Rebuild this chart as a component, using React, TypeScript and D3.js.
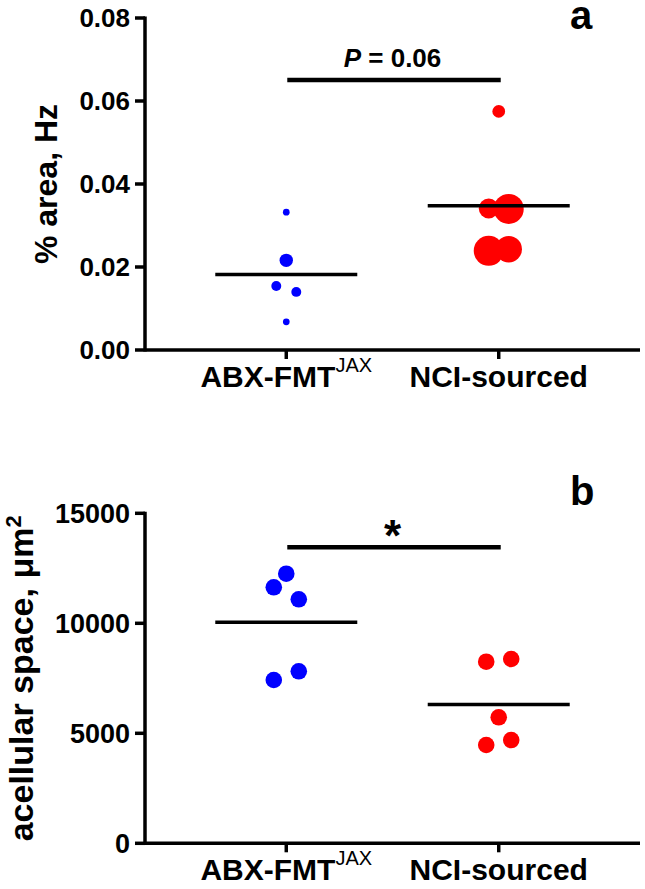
import React from "react";
import * as d3 from "d3";

const groups = ["ABX-FMT", "NCI-sourced"];
const areaTicks = [0, 0.02, 0.04, 0.06, 0.08];
const spaceTicks = [0, 5000, 10000, 15000];

// Panel a: % area, with bubble weight (relative)
const areaABX = [0.0332, 0.0216, 0.0154, 0.014, 0.0068];
const weightABX = [0.05, 0.2, 0.11, 0.11, 0.05];
const areaNCI = [0.0575, 0.0341, 0.034, 0.0239, 0.0243];
const weightNCI = [0.18, 0.44, 1.0, 1.0, 0.78];

// Panel b: acellular space, um^2
const spaceABX = [12255, 11636, 11091, 7423, 7818];
const spaceNCI = [8255, 8377, 5727, 4468, 4695];

const FONT = "'Liberation Sans', Arial, Helvetica, sans-serif";
const BLUE = "#0000ff";
const RED = "#ff0000";

function dodge(vals: number[], y: (v: number) => number, threshold: number, spacing: number) {
  const idx = vals.map((_, i) => i).sort((a, b) => y(vals[b]) - y(vals[a]));
  const offsets = new Array(vals.length).fill(0);
  let group: number[] = [];
  const flush = () => {
    const g = [...group].sort((a, b) => a - b);
    g.forEach((k, j) => (offsets[k] = (j - (g.length - 1) / 2) * spacing));
    group = [];
  };
  idx.forEach((i) => {
    if (group.length && Math.abs(y(vals[i]) - y(vals[group[0]])) > threshold) flush();
    group.push(i);
  });
  if (group.length) flush();
  return offsets;
}

type PanelProps = {
  top: number;
  bottom: number;
  ticks: number[];
  series: { vals: number[]; color: string; radii: number[] }[];
  spacing: number;
  tickFont: number;
  fmt: (v: number) => string;
  title: React.ReactNode;
  titleX: number;
  titleFont: number;
  letter: string;
  letterY: number;
  sig: React.ReactNode;
  sigY: number;
};

const AXIS_X = 145;
const AXIS_END = 640;

const x = d3.scalePoint<string>().domain(groups).range([AXIS_X, AXIS_END]).padding(0.665);

function Panel(p: PanelProps) {
  const y = d3.scaleLinear().domain([0, d3.max(p.ticks) as number]).range([p.bottom, p.top]);
  const y0 = y(0);
  return (
    <g>
      {/* y axis */}
      <line x1={AXIS_X} x2={AXIS_X} y1={y(d3.max(p.ticks) as number) - 1.5} y2={y0 + 1.5} stroke="#000" strokeWidth={3.5} />
      {p.ticks.map((t) => (
        <g key={t}>
          <line x1={AXIS_X - 10} x2={AXIS_X} y1={y(t)} y2={y(t)} stroke="#000" strokeWidth={3.5} />
          <text x={AXIS_X - 15} y={y(t)} dy="0.36em" textAnchor="end" fontFamily={FONT} fontWeight="bold" fontSize={p.tickFont}>
            {p.fmt(t)}
          </text>
        </g>
      ))}
      {/* x axis */}
      <line x1={AXIS_X} x2={AXIS_END} y1={y0} y2={y0} stroke="#000" strokeWidth={3.5} />
      {groups.map((g) => (
        <line key={g} x1={x(g)} x2={x(g)} y1={y0} y2={y0 + 9} stroke="#000" strokeWidth={3.5} />
      ))}
      <text x={x(groups[0])} y={y0 + 37} textAnchor="middle" fontFamily={FONT} fontWeight="bold" fontSize={30}>
        {groups[0]}
        <tspan fontWeight="normal" fontSize={20} dy={-15}>JAX</tspan>
      </text>
      <text x={x(groups[1])} y={y0 + 37} textAnchor="middle" fontFamily={FONT} fontWeight="bold" fontSize={30}>
        {groups[1]}
      </text>
      {/* points */}
      {p.series.map((s, si) => {
        const cx = x(groups[si]) as number;
        const offs = dodge(s.vals, y, 16, p.spacing);
        const m = d3.mean(s.vals) as number;
        return (
          <g key={si}>
            {s.vals.map((v, i) => (
              <circle key={i} cx={cx + offs[i]} cy={y(v)} r={s.radii[i]} fill={s.color} />
            ))}
            <line x1={cx - 71} x2={cx + 71} y1={y(m)} y2={y(m)} stroke="#000" strokeWidth={3.5} />
          </g>
        );
      })}
      {/* significance bar */}
      <line x1={(x(groups[0]) as number) + 1} x2={(x(groups[1]) as number) + 2} y1={p.sigY} y2={p.sigY} stroke="#000" strokeWidth={4.5} />
      {p.sig}
      {/* title */}
      <text
        transform={`translate(${p.titleX},${(p.top + p.bottom) / 2}) rotate(-90)`}
        textAnchor="middle"
        fontFamily={FONT}
        fontWeight="bold"
        fontSize={p.titleFont}
      >
        {p.title}
      </text>
      <text x={570} y={p.letterY} fontFamily={FONT} fontWeight="bold" fontSize={40}>
        {p.letter}
      </text>
    </g>
  );
}

export default function App() {
  const rA = d3.scaleSqrt().domain([0, 1]).range([0, 15]);
  const sigCenter = ((x(groups[0]) as number) + (x(groups[1]) as number)) / 2;
  return (
    <svg width={645} height={889} style={{ position: "absolute", left: 0, top: 0, background: "#fff" }}>
      <rect width={645} height={889} fill="#fff" />
      <Panel
        top={18}
        bottom={350}
        ticks={areaTicks}
        series={[
          { vals: areaABX, color: BLUE, radii: weightABX.map((w) => rA(w)) },
          { vals: areaNCI, color: RED, radii: weightNCI.map((w) => rA(w)) },
        ]}
        spacing={20}
        tickFont={26}
        fmt={d3.format(".2f")}
        title={"% area, Hz"}
        titleX={57}
        titleFont={32}
        letter="a"
        letterY={29}
        sigY={80}
        sig={
          <text x={sigCenter} y={67} textAnchor="middle" fontFamily={FONT} fontWeight="bold" fontSize={26}>
            <tspan fontStyle="italic">P</tspan> = 0.06
          </text>
        }
      />
      <Panel
        top={513.3}
        bottom={843.3}
        ticks={spaceTicks}
        series={[
          { vals: spaceABX, color: BLUE, radii: spaceABX.map(() => 8.3) },
          { vals: spaceNCI, color: RED, radii: spaceNCI.map(() => 8.3) },
        ]}
        spacing={25}
        tickFont={27}
        fmt={d3.format("d")}
        title={
          <>
            acellular space, μm<tspan fontSize={22} dy={-12}>2</tspan>
          </>
        }
        titleX={33}
        titleFont={34}
        letter="b"
        letterY={505}
        sigY={547.3}
        sig={
          <text x={sigCenter} y={551} textAnchor="middle" fontFamily={FONT} fontWeight="bold" fontSize={44}>
            *
          </text>
        }
      />
    </svg>
  );
}
